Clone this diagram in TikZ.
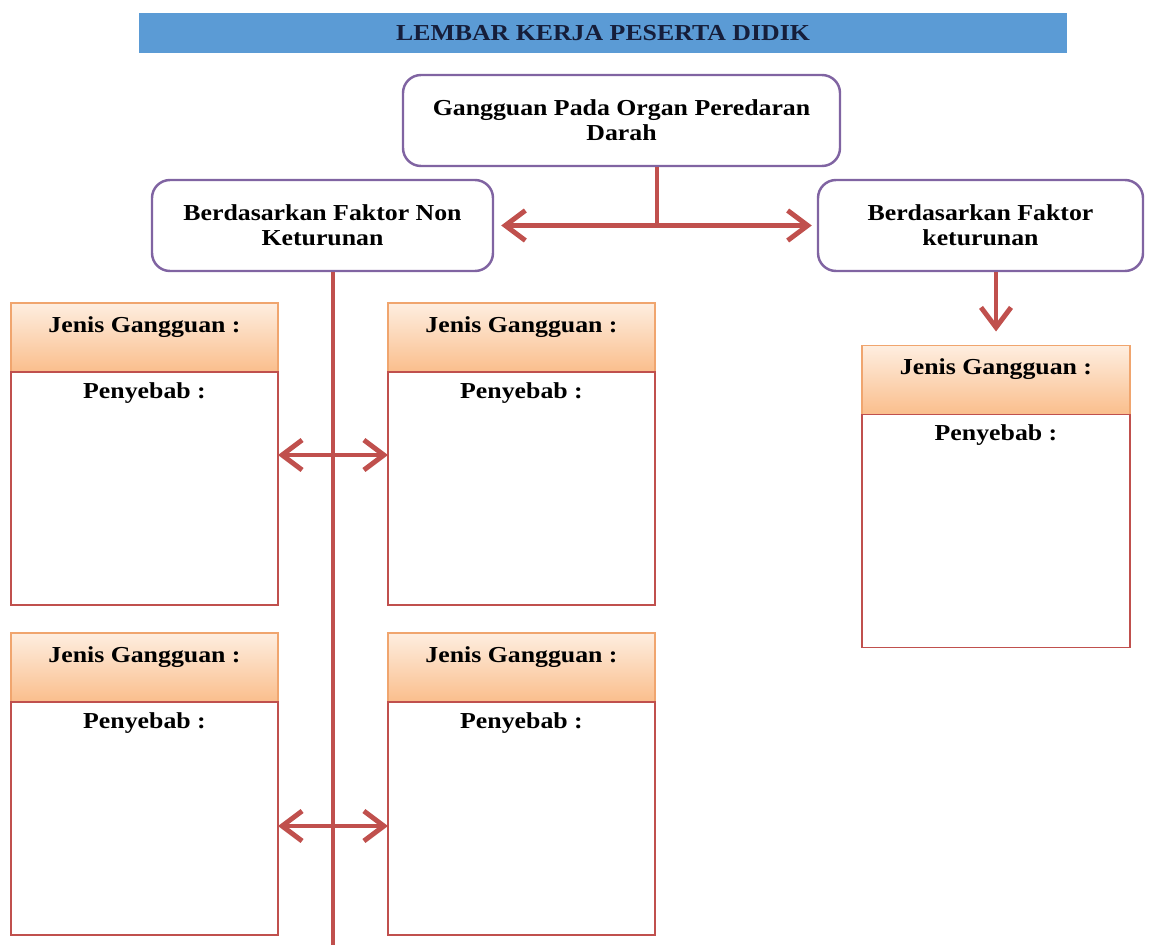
\documentclass[tikz,border=0pt]{standalone}
\usepackage{fontspec}
\setmainfont[FakeStretch=1.13]{Liberation Serif}
\usepackage{tikz}
\usetikzlibrary{positioning,arrows.meta,calc}
\definecolor{garis}{RGB}{192,80,77}
\definecolor{ungu}{RGB}{128,100,162}
\definecolor{biruJudul}{RGB}{91,155,213}
\definecolor{jingga}{RGB}{240,165,110}
\definecolor{jinggaAtas}{RGB}{254,238,224}
\definecolor{jinggaBawah}{RGB}{250,190,140}
\definecolor{tinta}{RGB}{22,30,58}

\begin{document}
\begin{tikzpicture}[
    font=\fontsize{13}{14.2}\selectfont\bfseries,
    kotak/.style={draw=ungu, line width=1.4pt, rounded corners=0.36cm, fill=white, align=center, minimum height=1.82cm},
    kepala/.style={draw=jingga, line width=0.6pt, outer sep=0pt, top color=jinggaAtas, bottom color=jinggaBawah, minimum width=5.34cm, minimum height=1.38cm, inner sep=0.17cm, text height=0.41cm, text depth=0.63cm},
    badan/.style={draw=garis, line width=1.1pt, outer sep=0pt, fill=white, minimum width=5.34cm, minimum height=4.66cm, inner sep=0.17cm, text height=0.35cm, text depth=3.97cm},
    hubung/.style={draw=garis, line width=2.8pt},
    kait/.tip={Straight Barb[length=0.4cm,width=0.6cm]}
]
    \useasboundingbox (0,0) rectangle (23.3,-18.9);

    % Judul
    \node[fill=biruJudul, minimum width=18.56cm, minimum height=0.8cm, text=tinta, font=\fontsize{13}{15}\selectfont\bfseries] (judul) at (12.06,-0.66) {LEMBAR KERJA PESERTA DIDIK};

    % Kotak utama dan cabang
    \node[kotak, minimum width=8.74cm] (utama) at (12.43,-2.41) {Gangguan Pada Organ Peredaran\\Darah};
    \node[kotak, minimum width=6.82cm] (nonket) at (6.45,-4.51) {Berdasarkan Faktor Non\\Keturunan};
    \node[kotak, minimum width=6.5cm] (ket) at (19.61,-4.51) {Berdasarkan Faktor\\keturunan};

    \coordinate (cabang) at (13.14,-4.51);
    \draw[hubung] (utama.south -| cabang) -- (cabang);
    \draw[hubung, kait-kait, shorten <=0.14cm, shorten >=0.1cm] (nonket) -- (ket);

    % Faktor non keturunan
    \coordinate (dasar) at (6.66,-18.9);
    \draw[hubung] (nonket.south -| dasar) -- (dasar);

    \node[kepala] (jenis1) at (2.89,-6.75) {Jenis Gangguan :};
    \node[badan, below=0pt of jenis1] (sebab1) {Penyebab :};
    \node[kepala] (jenis2) at (10.43,-6.75) {Jenis Gangguan :};
    \node[badan, below=0pt of jenis2] (sebab2) {Penyebab :};
    \node[kepala] (jenis3) at (2.89,-13.35) {Jenis Gangguan :};
    \node[badan, below=0pt of jenis3] (sebab3) {Penyebab :};
    \node[kepala] (jenis4) at (10.43,-13.35) {Jenis Gangguan :};
    \node[badan, below=0pt of jenis4] (sebab4) {Penyebab :};

    \draw[hubung, kait-kait] ([yshift=0.67cm]sebab1.east) -- ([yshift=0.67cm]sebab2.west);
    \draw[hubung, kait-kait] ([yshift=-0.15cm]sebab3.east) -- ([yshift=-0.15cm]sebab4.west);

    % Faktor keturunan
    \node[kepala, minimum width=5.36cm] (jenis5) at (19.92,-7.6) {Jenis Gangguan :};
    \node[badan, minimum width=5.36cm, below=0pt of jenis5] (sebab5) {Penyebab :};
    \draw[hubung, -kait, shorten >=0.28cm] (ket.south -| jenis5.north) -- (jenis5.north);
\end{tikzpicture}
\end{document}
